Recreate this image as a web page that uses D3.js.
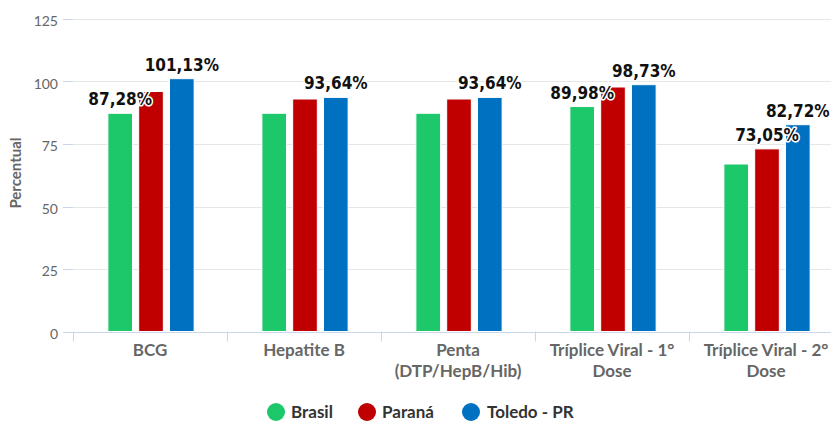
<!DOCTYPE html>
<html>
<head>
<meta charset="utf-8">
<script src="https://cdn.jsdelivr.net/npm/d3@7"></script>
<style>
  html, body { margin: 0; padding: 0; background: #fff; }
  svg { display: block; }
</style>
</head>
<body>
<div id="chart"></div>
<script>
// ---- data ----
const categories = ["BCG", "Hepatite B", "Penta (DTP/HepB/Hib)", "Tríplice Viral - 1° Dose", "Tríplice Viral - 2° Dose"];
const categoryLines = [["BCG"], ["Hepatite B"], ["Penta", "(DTP/HepB/Hib)"], ["Tríplice Viral - 1°", "Dose"], ["Tríplice Viral - 2°", "Dose"]];
const seriesNames = ["Brasil", "Paraná", "Toledo - PR"];
const brasil = [87.28, 87.3, 87.3, 89.98, 67.0];
const parana = [96.0, 93.0, 93.0, 97.8, 73.05];
const toledo = [101.13, 93.64, 93.64, 98.73, 82.72];
const yTicks = [0, 25, 50, 75, 100, 125];
const yTitle = "Percentual";

const seriesValues = [brasil, parana, toledo];
const colors = ["#1cc86a", "#c00000", "#0070c0"];

const W = 831, H = 421;
const plotLeft = 73, plotTop = 19, plotBottom = 331.5;
const bandW = 154;
const plotRight = plotLeft + bandW * categories.length;

const svg = d3.select("#chart").append("svg").attr("width", W).attr("height", H);

const x0 = d3.scaleBand().domain(categories).range([plotLeft, plotRight]).padding(0);
const y = d3.scaleLinear().domain([0, 125]).range([plotBottom, plotTop]);
const groupPad = 0.2 * x0.bandwidth();
const x1 = d3.scaleBand().domain(seriesNames).range([groupPad + 1, x0.bandwidth() - groupPad + 1]).padding(0);
const pointPad = 0.1 * x1.bandwidth();

// gridlines
svg.append("g").selectAll("line").data(yTicks.filter(t => t > 0)).join("line")
  .attr("x1", plotLeft).attr("x2", W)
  .attr("y1", d => Math.round(y(d)) + 0.5).attr("y2", d => Math.round(y(d)) + 0.5)
  .attr("stroke", "#e6e6e6").attr("stroke-width", 1);
// y ticks (left)
svg.append("g").selectAll("line").data(yTicks).join("line")
  .attr("x1", plotLeft - 10).attr("x2", plotLeft)
  .attr("y1", d => Math.round(y(d)) + 0.5).attr("y2", d => Math.round(y(d)) + 0.5)
  .attr("stroke", "#ccd6eb");
// y labels
svg.append("g").selectAll("text").data(yTicks).join("text")
  .attr("x", 58).attr("y", d => y(d) + 7)
  .attr("text-anchor", "end")
  .attr("font-family", "Lato, sans-serif").attr("font-size", 14).attr("fill", "#666")
  .text(d => d);
// y title
svg.append("text")
  .attr("transform", `translate(21,173) rotate(-90)`)
  .attr("text-anchor", "middle")
  .attr("font-family", "Lato, sans-serif").attr("font-weight", "bold").attr("font-size", 15).attr("fill", "#666")
  .text(yTitle);

// x axis line + ticks
svg.append("line").attr("x1", plotLeft).attr("x2", W)
  .attr("y1", Math.round(plotBottom) + 0.5).attr("y2", Math.round(plotBottom) + 0.5)
  .attr("stroke", "#ccd6eb");
svg.append("g").selectAll("line").data(d3.range(categories.length + 1)).join("line")
  .attr("x1", i => plotLeft + i * x0.step() + 0.5).attr("x2", i => plotLeft + i * x0.step() + 0.5)
  .attr("y1", plotBottom).attr("y2", plotBottom + 10)
  .attr("stroke", "#ccd6eb");

// category labels
const catG = svg.append("g");
categories.forEach((c, i) => {
  const t = catG.append("text")
    .attr("x", x0(c) + x0.bandwidth() / 2).attr("y", 356)
    .attr("text-anchor", "middle")
    .attr("font-family", "Lato, sans-serif").attr("font-weight", "bold").attr("font-size", 17).attr("fill", "#666");
  categoryLines[i].forEach((ln, j) => {
    t.append("tspan").attr("x", x0(c) + x0.bandwidth() / 2).attr("dy", j === 0 ? 0 : 21).text(ln);
  });
});

// bars
const barData = [];
categories.forEach((c, i) => {
  seriesNames.forEach((s, k) => {
    barData.push({ cat: c, series: s, k, value: seriesValues[k][i] });
  });
});
svg.append("g").selectAll("rect").data(barData).join("rect")
  .attr("x", d => x0(d.cat) + x1(d.series) + pointPad)
  .attr("width", x1.bandwidth() - 2 * pointPad)
  .attr("y", d => y(d.value))
  .attr("height", d => plotBottom - y(d.value))
  .attr("fill", d => colors[d.k])
  .attr("stroke", "#fff").attr("stroke-width", 1);

// data labels with overlap hiding
const fmt = v => v.toFixed(2).replace(".", ",") + "%";
const labelG = svg.append("g");
const placed = [];
barData.slice().sort((a, b) => b.value - a.value).forEach(d => {
  const cx = x0(d.cat) + x1(d.series) + x1.bandwidth() / 2;
  const t = labelG.append("text")
    .attr("x", cx).attr("y", y(d.value) - 8)
    .attr("text-anchor", "middle")
    .attr("font-family", "'DejaVu Sans Condensed', 'DejaVu Sans', sans-serif")
    .attr("font-weight", "bold").attr("font-size", 17)
    .attr("fill", "#111").attr("stroke", "#fff").attr("stroke-width", 3)
    .attr("stroke-linejoin", "round").attr("paint-order", "stroke")
    .text(fmt(d.value));
  const b = t.node().getBBox();
  const box = { x0: b.x - 1, x1: b.x + b.width + 1, y0: b.y, y1: b.y + b.height };
  const hit = placed.some(p => box.x0 < p.x1 && box.x1 > p.x0 && box.y0 < p.y1 && box.y1 > p.y0);
  if (hit) t.remove(); else placed.push(box);
});

// legend
const legendItems = [
  { name: seriesNames[0], cx: 276, tx: 291 },
  { name: seriesNames[1], cx: 367, tx: 382 },
  { name: seriesNames[2], cx: 471, tx: 487 }
];
const lg = svg.append("g");
legendItems.forEach((it, k) => {
  lg.append("circle").attr("cx", it.cx).attr("cy", 412).attr("r", 9).attr("fill", colors[k]);
  lg.append("text").attr("x", it.tx).attr("y", 418)
    .attr("font-family", "Lato, sans-serif").attr("font-weight", "bold").attr("font-size", 17).attr("fill", "#333")
    .text(it.name);
});
</script>
</body>
</html>
